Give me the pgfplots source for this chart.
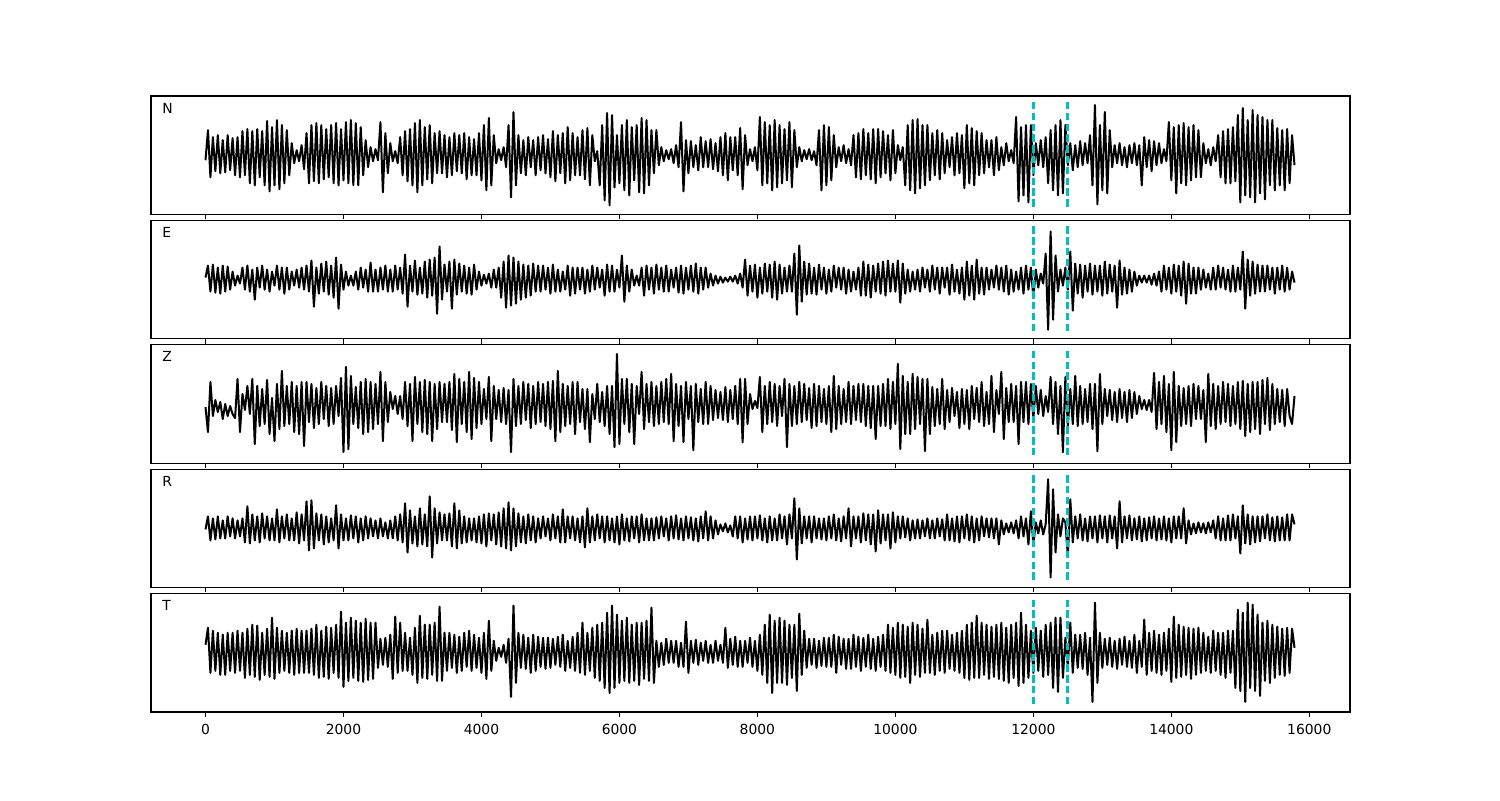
\documentclass[border=0pt]{standalone}
\usepackage{fontspec}
\setmainfont{DejaVu Sans}
\usepackage{pgfplots}
\usepackage{pgfplotstable}
\pgfplotsset{compat=1.18}
\definecolor{mplc}{rgb}{0,0.75,0.75}

\pgfplotstableread[row sep=\\, header=false]{
-5\\ 25\\ -22\\ 18\\ -16\\ 20\\ -18\\ 15\\ -17\\ 20\\ -15\\ 17\\ -20\\ 18\\
-22\\ 24\\ -20\\ 26\\ -28\\ 24\\ -30\\ 26\\ -22\\ 24\\ -30\\ 34\\ -36\\ 28\\
-30\\ 35\\ -34\\ 30\\ -28\\ 25\\ -20\\ 12\\ -8\\ 5\\ -6\\ 10\\ -14\\ 22\\
-28\\ 30\\ -26\\ 32\\ -28\\ 30\\ -24\\ 26\\ -22\\ 30\\ -28\\ 32\\ -30\\ 26\\
-25\\ 33\\ -28\\ 35\\ -30\\ 32\\ -30\\ 28\\ -20\\ 15\\ -12\\ 8\\ -6\\ 6\\
-5\\ 33\\ -37\\ 22\\ -18\\ 12\\ -6\\ 4\\ -8\\ 18\\ -20\\ 24\\ -26\\ 26\\
-30\\ 32\\ -37\\ 35\\ -30\\ 28\\ -24\\ 30\\ -28\\ 22\\ -18\\ 24\\ -18\\ 20\\
-22\\ 18\\ -20\\ 22\\ -16\\ 20\\ -18\\ 22\\ -24\\ 18\\ -20\\ 16\\ -20\\ 22\\
-25\\ 30\\ -35\\ 37\\ -30\\ 20\\ -8\\ 6\\ -5\\ 8\\ -12\\ 30\\ -42\\ 43\\
-30\\ 20\\ -18\\ 15\\ -20\\ 18\\ -12\\ 15\\ -20\\ 18\\ -15\\ 20\\ -18\\ 16\\
-22\\ 24\\ -26\\ 20\\ -18\\ 22\\ -28\\ 28\\ -25\\ 22\\ -20\\ 18\\ -20\\ 25\\
-24\\ 27\\ -30\\ 20\\ -6\\ 4\\ -30\\ 30\\ -45\\ 42\\ -50\\ 40\\ -32\\ 20\\
-28\\ 30\\ -35\\ 35\\ -40\\ 28\\ -25\\ 30\\ -37\\ 37\\ -38\\ 35\\ -30\\ 25\\
-18\\ 25\\ -10\\ 8\\ -6\\ 5\\ -4\\ 6\\ -8\\ 10\\ -12\\ 33\\ -36\\ 15\\
-18\\ 14\\ -12\\ 10\\ -15\\ 18\\ -12\\ 14\\ -12\\ 16\\ -14\\ 12\\ -16\\ 18\\
-20\\ 22\\ -25\\ 18\\ -15\\ 18\\ -20\\ 27\\ -34\\ 20\\ -10\\ 6\\ -6\\ 8\\
-15\\ 38\\ -30\\ 33\\ -28\\ 30\\ -35\\ 35\\ -32\\ 30\\ -28\\ 26\\ -25\\ 33\\
-32\\ 25\\ -12\\ 8\\ -6\\ 5\\ -4\\ 6\\ -5\\ 4\\ -10\\ 25\\ -35\\ 30\\
-30\\ 28\\ -25\\ 20\\ -12\\ 8\\ -6\\ 10\\ -8\\ 6\\ -10\\ 20\\ -22\\ 22\\
-24\\ 26\\ -20\\ 22\\ -24\\ 26\\ -28\\ 26\\ -22\\ 24\\ -18\\ 20\\ -25\\ 25\\
-18\\ 10\\ -5\\ 8\\ -30\\ 30\\ -35\\ 35\\ -38\\ 36\\ -33\\ 30\\ -30\\ 30\\
-25\\ 22\\ -20\\ 25\\ -24\\ 22\\ -18\\ 15\\ -12\\ 18\\ -20\\ 22\\ -18\\ 20\\
-33\\ 30\\ -28\\ 27\\ -30\\ 24\\ -20\\ 22\\ -18\\ 15\\ -12\\ 15\\ -20\\ 18\\
-15\\ 8\\ -10\\ 12\\ -6\\ 5\\ -8\\ 38\\ -46\\ 28\\ -40\\ 30\\ -47\\ 30\\
-20\\ 12\\ -10\\ 15\\ -12\\ 18\\ -28\\ 25\\ -35\\ 30\\ -40\\ 35\\ -38\\ 30\\
-10\\ 12\\ -15\\ 10\\ -12\\ 14\\ -10\\ 12\\ -8\\ 20\\ -30\\ 50\\ -49\\ 30\\
-35\\ 43\\ -38\\ 25\\ -12\\ 10\\ -8\\ 12\\ -10\\ 8\\ -12\\ 10\\ -8\\ 12\\
-10\\ 10\\ -30\\ 18\\ -12\\ 15\\ -16\\ 14\\ -10\\ 12\\ -8\\ 6\\ -6\\ 33\\
-25\\ 28\\ -38\\ 30\\ -28\\ 32\\ -30\\ 28\\ -25\\ 30\\ -22\\ 25\\ -22\\ 12\\
-8\\ 6\\ -10\\ 8\\ -6\\ 20\\ -22\\ 24\\ -28\\ 26\\ -28\\ 28\\ -26\\ 40\\
-47\\ 47\\ -40\\ 35\\ -42\\ 45\\ -47\\ 40\\ -38\\ 38\\ -44\\ 35\\ -30\\ 35\\
-35\\ 27\\ -30\\ 25\\ -35\\ 26\\ -28\\ 20\\ -10\\
}\tN

\pgfplotstableread[row sep=\\, header=false]{
2\\ 14\\ -12\\ 15\\ -13\\ 12\\ -14\\ 14\\ -12\\ 13\\ -10\\ 8\\ -6\\ 4\\
-4\\ 12\\ -10\\ 14\\ -12\\ 10\\ -20\\ 12\\ -8\\ 14\\ -10\\ 10\\ -12\\ 8\\
-6\\ 14\\ -10\\ 12\\ -14\\ 12\\ -10\\ 8\\ -6\\ 10\\ -8\\ 12\\ -10\\ 14\\
-12\\ 19\\ -27\\ 12\\ -14\\ 16\\ -12\\ 18\\ -15\\ 14\\ -18\\ 22\\ -29\\ 15\\
-10\\ 8\\ -6\\ 4\\ -6\\ 8\\ -10\\ 12\\ -8\\ 10\\ -12\\ 17\\ -12\\ 10\\
-12\\ 12\\ -10\\ 14\\ -12\\ 10\\ -12\\ 14\\ -10\\ 12\\ -14\\ 25\\ -27\\ 14\\
-12\\ 19\\ -15\\ 12\\ -14\\ 18\\ -18\\ 20\\ -16\\ 22\\ -34\\ 33\\ -20\\ 15\\
-12\\ 18\\ -29\\ 20\\ -15\\ 16\\ -12\\ 14\\ -14\\ 12\\ -15\\ 15\\ -10\\ 8\\
-6\\ 5\\ -4\\ 6\\ -8\\ 10\\ -8\\ 12\\ -18\\ 18\\ -28\\ 24\\ -26\\ 22\\
-24\\ 18\\ -20\\ 15\\ -18\\ 14\\ -16\\ 16\\ -12\\ 14\\ -12\\ 14\\ -10\\ 12\\
-14\\ 15\\ -12\\ 10\\ -12\\ 8\\ -10\\ 14\\ -16\\ 12\\ -14\\ 12\\ -10\\ 12\\
-14\\ 10\\ -12\\ 14\\ -10\\ 12\\ -8\\ 10\\ -16\\ 15\\ -12\\ 14\\ -12\\ 10\\
-8\\ 24\\ -22\\ 14\\ -12\\ 10\\ -6\\ 4\\ -6\\ 12\\ -16\\ 14\\ -10\\ 12\\
-14\\ 15\\ -10\\ 12\\ -12\\ 14\\ -12\\ 10\\ -8\\ 12\\ -13\\ 14\\ -14\\ 12\\
-10\\ 14\\ -12\\ 16\\ -14\\ 12\\ -10\\ 12\\ -8\\ 6\\ -6\\ 4\\ -4\\ 3\\
-3\\ 2\\ -2\\ 3\\ -2\\ 4\\ -4\\ 6\\ -8\\ 20\\ -16\\ 14\\ -12\\ 15\\
-18\\ 12\\ -14\\ 16\\ -12\\ 15\\ -18\\ 18\\ -20\\ 15\\ -14\\ 12\\ -12\\ 14\\
-12\\ 26\\ -35\\ 34\\ -22\\ 18\\ -15\\ 16\\ -14\\ 12\\ -15\\ 15\\ -10\\ 12\\
-14\\ 10\\ -12\\ 14\\ -8\\ 12\\ -10\\ 12\\ -14\\ 10\\ -12\\ 8\\ -10\\ 12\\
-16\\ 18\\ -16\\ 15\\ -18\\ 14\\ -12\\ 16\\ -14\\ 18\\ -16\\ 19\\ -12\\ 16\\
-12\\ 19\\ -23\\ 16\\ -14\\ 10\\ -12\\ 8\\ -10\\ 10\\ -12\\ 12\\ -8\\ 10\\
-12\\ 14\\ -10\\ 12\\ -14\\ 12\\ -8\\ 12\\ -15\\ 15\\ -12\\ 10\\ -14\\ 12\\
-20\\ 18\\ -16\\ 14\\ -20\\ 20\\ -14\\ 12\\ -15\\ 12\\ -10\\ 10\\ -8\\ 14\\
-10\\ 12\\ -12\\ 14\\ -15\\ 10\\ -12\\ 8\\ -10\\ 12\\ -14\\ 14\\ -10\\ 12\\
-18\\ 10\\ -8\\ 6\\ -4\\ 26\\ -50\\ 48\\ -40\\ 24\\ -12\\ 10\\ -6\\ 12\\
-10\\ 28\\ -31\\ 16\\ -14\\ 15\\ -18\\ 14\\ -12\\ 16\\ -15\\ 14\\ -12\\ 14\\
-16\\ 18\\ -14\\ 15\\ -12\\ 14\\ -28\\ 19\\ -15\\ 12\\ -14\\ 10\\ -12\\ 8\\
-6\\ 4\\ -3\\ 4\\ -3\\ 4\\ -5\\ 6\\ -6\\ 8\\ -12\\ 14\\ -10\\ 12\\
-14\\ 15\\ -12\\ 14\\ -16\\ 18\\ -24\\ 16\\ -14\\ 12\\ -14\\ 12\\ -10\\ 10\\
-8\\ 6\\ -10\\ 12\\ -10\\ 14\\ -8\\ 12\\ -10\\ 10\\ -12\\ 14\\ -12\\ 12\\
-10\\ 28\\ -29\\ 20\\ -16\\ 18\\ -14\\ 15\\ -12\\ 14\\ -12\\ 14\\ -10\\ 12\\
-14\\ 12\\ -10\\ 14\\ -12\\ 12\\ -10\\ 8\\ -3\\
}\tE

\pgfplotstableread[row sep=\\, header=false]{
-3\\ -28\\ 22\\ -12\\ 4\\ -8\\ 2\\ -15\\ 0\\ -12\\ -2\\ -10\\ -14\\ 25\\
-28\\ 10\\ -6\\ 18\\ -10\\ 25\\ -40\\ 18\\ -22\\ 15\\ -20\\ 24\\ -30\\ 6\\
-37\\ 20\\ -25\\ 33\\ -22\\ 18\\ -20\\ 22\\ -28\\ 18\\ -30\\ 22\\ -42\\ 22\\
-18\\ 20\\ -24\\ 16\\ -20\\ 22\\ -15\\ 18\\ -22\\ 16\\ -20\\ 18\\ -12\\ 26\\
-48\\ 37\\ -45\\ 28\\ -20\\ 17\\ -24\\ 22\\ -30\\ 25\\ -28\\ 22\\ -25\\ 20\\
-20\\ 32\\ -37\\ 22\\ -18\\ 12\\ -5\\ 8\\ -10\\ 8\\ -15\\ 22\\ -22\\ 20\\
-37\\ 27\\ -20\\ 22\\ -28\\ 24\\ -30\\ 22\\ -37\\ 20\\ -25\\ 22\\ -18\\ 20\\
-18\\ 22\\ -26\\ 30\\ -38\\ 25\\ -20\\ 22\\ -28\\ 32\\ -35\\ 26\\ -24\\ 22\\
-20\\ 15\\ -15\\ 27\\ -37\\ 18\\ -15\\ 14\\ -18\\ 16\\ -20\\ 14\\ -48\\ 25\\
-22\\ 18\\ -20\\ 22\\ -16\\ 20\\ -24\\ 18\\ -20\\ 22\\ -18\\ 20\\ -22\\ 22\\
-25\\ 23\\ -37\\ 33\\ -28\\ 20\\ -22\\ 18\\ -20\\ 22\\ -30\\ 22\\ -18\\ 15\\
-25\\ 15\\ -38\\ 10\\ -15\\ 20\\ -18\\ 12\\ -22\\ 18\\ -30\\ 18\\ -43\\ 50\\
-40\\ 25\\ -20\\ 25\\ -28\\ 20\\ -40\\ 18\\ -10\\ 32\\ -25\\ 20\\ -18\\ 22\\
-22\\ 18\\ -20\\ 22\\ -18\\ 25\\ -20\\ 30\\ -37\\ 20\\ -22\\ 18\\ -38\\ 22\\
-15\\ 18\\ -46\\ 20\\ -18\\ 15\\ -20\\ 22\\ -20\\ 18\\ -16\\ 14\\ -14\\ 12\\
-16\\ 17\\ -18\\ 14\\ -15\\ 18\\ -20\\ 25\\ -38\\ 25\\ -20\\ 10\\ -5\\ 3\\
-4\\ 27\\ -28\\ 18\\ -20\\ 22\\ -18\\ 20\\ -22\\ 18\\ -12\\ 25\\ -43\\ 20\\
-22\\ 18\\ -20\\ 22\\ -18\\ 20\\ -16\\ 16\\ -24\\ 20\\ -22\\ 18\\ -18\\ 15\\
-20\\ 18\\ -28\\ 28\\ -25\\ 18\\ -20\\ 15\\ -18\\ 22\\ -20\\ 18\\ -16\\ 20\\
-18\\ 20\\ -22\\ 18\\ -24\\ 18\\ -35\\ 18\\ -22\\ 20\\ -22\\ 25\\ -25\\ 22\\
-20\\ 40\\ -45\\ 28\\ -30\\ 22\\ -30\\ 30\\ -25\\ 27\\ -20\\ 25\\ -47\\ 25\\
-30\\ 17\\ -22\\ 15\\ -20\\ 25\\ -25\\ 14\\ -18\\ 16\\ -12\\ 12\\ -24\\ 15\\
-20\\ 14\\ -25\\ 18\\ -15\\ 16\\ -18\\ 22\\ -22\\ 12\\ -20\\ 28\\ -28\\ 14\\
-10\\ 32\\ -35\\ 16\\ -18\\ 20\\ -18\\ 18\\ -40\\ 22\\ -18\\ 22\\ -20\\ 20\\
-15\\ 18\\ -10\\ 14\\ -12\\ 8\\ -8\\ 27\\ -20\\ 22\\ -30\\ 18\\ -48\\ 27\\
-22\\ 15\\ -20\\ 28\\ -22\\ 18\\ -20\\ 15\\ -18\\ 20\\ -25\\ 20\\ -47\\ 30\\
-20\\ 15\\ -12\\ 14\\ -16\\ 12\\ -18\\ 15\\ -14\\ 12\\ -18\\ 14\\ -14\\ 12\\
-10\\ 8\\ -5\\ 4\\ -6\\ 4\\ -8\\ 31\\ -25\\ 22\\ -20\\ 28\\ -28\\ 20\\
-46\\ 32\\ -38\\ 18\\ -22\\ 16\\ -20\\ 18\\ -22\\ 20\\ -15\\ 18\\ -15\\ 14\\
-38\\ 30\\ -22\\ 20\\ -25\\ 18\\ -20\\ 22\\ -18\\ 20\\ -22\\ 18\\ -20\\ 22\\
-25\\ 23\\ -32\\ 20\\ -28\\ 22\\ -25\\ 22\\ -30\\ 24\\ -20\\ 26\\ -26\\ 20\\
-20\\ 15\\ -18\\ 14\\ -22\\ 15\\ -12\\ -20\\ 8\\
}\tZ

\pgfplotstableread[row sep=\\, header=false]{
-1\\ 12\\ -12\\ 10\\ -11\\ 12\\ -10\\ 8\\ -10\\ 12\\ -8\\ 10\\ -10\\ 8\\
-8\\ 10\\ -14\\ 22\\ -15\\ 14\\ -12\\ 12\\ -14\\ 15\\ -10\\ 12\\ -12\\ 10\\
-12\\ 19\\ -14\\ 12\\ -10\\ 14\\ -12\\ 10\\ -12\\ 16\\ -15\\ 14\\ -12\\ 27\\
-22\\ 28\\ -20\\ 15\\ -12\\ 14\\ -16\\ 12\\ -14\\ 10\\ -12\\ 23\\ -20\\ 14\\
-12\\ 10\\ -12\\ 13\\ -10\\ 12\\ -14\\ 10\\ -12\\ 12\\ -10\\ 10\\ -8\\ 8\\
-10\\ 10\\ -8\\ 6\\ -10\\ 8\\ -10\\ 12\\ -12\\ 14\\ -14\\ 25\\ -24\\ 18\\
-15\\ 12\\ -18\\ 20\\ -16\\ 14\\ -18\\ 32\\ -29\\ 20\\ -15\\ 16\\ -12\\ 14\\
-12\\ 15\\ -18\\ 25\\ -20\\ 18\\ -15\\ 12\\ -14\\ 10\\ -12\\ 10\\ -14\\ 12\\
-15\\ 14\\ -18\\ 15\\ -12\\ 14\\ -16\\ 16\\ -18\\ 20\\ -20\\ 26\\ -22\\ 20\\
-18\\ 15\\ -14\\ 12\\ -15\\ 14\\ -12\\ 12\\ -14\\ 10\\ -10\\ 12\\ -8\\ 10\\
-12\\ 14\\ -10\\ 12\\ -14\\ 19\\ -14\\ 12\\ -10\\ 12\\ -12\\ 10\\ -14\\ 12\\
-19\\ 20\\ -14\\ 12\\ -12\\ 14\\ -10\\ 12\\ -14\\ 12\\ -12\\ 10\\ -14\\ 12\\
-16\\ 14\\ -12\\ 10\\ -13\\ 12\\ -10\\ 12\\ -14\\ 14\\ -12\\ 10\\ -12\\ 10\\
-12\\ 11\\ -10\\ 12\\ -8\\ 10\\ -12\\ 12\\ -10\\ 13\\ -11\\ 10\\ -12\\ 12\\
-10\\ 11\\ -12\\ 10\\ -13\\ 12\\ -10\\ 17\\ -12\\ 12\\ -10\\ 8\\ -6\\ 4\\
-3\\ 5\\ -4\\ 3\\ -8\\ 12\\ -10\\ 12\\ -14\\ 10\\ -11\\ 12\\ -12\\ 12\\
-10\\ 13\\ -12\\ 10\\ -14\\ 12\\ -12\\ 10\\ -12\\ 14\\ -10\\ 12\\ -16\\ 14\\
-10\\ 30\\ -31\\ 20\\ -15\\ 12\\ -10\\ 12\\ -14\\ 12\\ -10\\ 10\\ -11\\ 10\\
-12\\ 12\\ -10\\ 14\\ -12\\ 10\\ -13\\ 12\\ -10\\ 20\\ -18\\ 12\\ -10\\ 12\\
-14\\ 15\\ -12\\ 14\\ -16\\ 14\\ -23\\ 18\\ -15\\ 14\\ -12\\ 14\\ -20\\ 16\\
-14\\ 12\\ -10\\ 12\\ -9\\ 10\\ -12\\ 8\\ -10\\ 9\\ -10\\ 8\\ -8\\ 10\\
-10\\ 8\\ -10\\ 10\\ -8\\ 9\\ -12\\ 14\\ -12\\ 10\\ -13\\ 12\\ -14\\ 12\\
-10\\ 14\\ -12\\ 12\\ -14\\ 10\\ -12\\ 12\\ -8\\ 10\\ -9\\ 10\\ -10\\ 10\\
-16\\ 8\\ -6\\ 5\\ -4\\ 6\\ -5\\ 8\\ -10\\ 12\\ -8\\ 10\\ -16\\ 17\\
-16\\ 6\\ -5\\ 8\\ -6\\ 4\\ 49\\ -49\\ 39\\ -24\\ 14\\ -8\\ 10\\ 6\\
-28\\ 29\\ -14\\ 12\\ -10\\ 14\\ -12\\ 10\\ -13\\ 12\\ -10\\ 12\\ -14\\ 13\\
-10\\ 12\\ -14\\ 13\\ -10\\ 12\\ -20\\ 27\\ -14\\ 12\\ -10\\ 13\\ -12\\ 10\\
-11\\ 12\\ -13\\ 10\\ -12\\ 11\\ -10\\ 12\\ -12\\ 10\\ -11\\ 12\\ -12\\ 10\\
-14\\ 12\\ -10\\ 12\\ -10\\ 20\\ -15\\ 8\\ -6\\ 5\\ -5\\ 6\\ -4\\ 5\\
-5\\ 6\\ -4\\ 8\\ -10\\ 12\\ -12\\ 10\\ -12\\ 13\\ -12\\ 14\\ -10\\ 12\\
-25\\ 23\\ -15\\ 14\\ -16\\ 12\\ -14\\ 12\\ -13\\ 12\\ -10\\ 14\\ -12\\ 11\\
-13\\ 12\\ -12\\ 11\\ -12\\ 14\\ -12\\ 14\\ 4\\
}\tR

\pgfplotstableread[row sep=\\, header=false]{
8\\ 25\\ -20\\ 22\\ -18\\ 20\\ -22\\ 18\\ -22\\ 20\\ -18\\ 20\\ -20\\ 22\\
-18\\ 20\\ -25\\ 24\\ -22\\ 28\\ -24\\ 27\\ -27\\ 20\\ -22\\ 24\\ -24\\ 35\\
-26\\ 25\\ -20\\ 22\\ -18\\ 20\\ -20\\ 22\\ -22\\ 24\\ -20\\ 22\\ -20\\ 22\\
-20\\ 24\\ -22\\ 28\\ -25\\ 22\\ -24\\ 26\\ -26\\ 25\\ -20\\ 28\\ -25\\ 41\\
-34\\ 30\\ -28\\ 35\\ -25\\ 32\\ -28\\ 30\\ -29\\ 34\\ -27\\ 30\\ -26\\ 30\\
-15\\ 14\\ -12\\ 15\\ -14\\ 18\\ -26\\ 36\\ -20\\ 30\\ -18\\ 20\\ -18\\ 15\\
-22\\ 25\\ -30\\ 37\\ -25\\ 28\\ -26\\ 28\\ -22\\ 30\\ -28\\ 46\\ -28\\ 20\\
-18\\ 20\\ -15\\ 18\\ -20\\ 16\\ -18\\ 20\\ -14\\ 22\\ -18\\ 18\\ -15\\ 15\\
-20\\ 20\\ -26\\ 32\\ -18\\ 12\\ -8\\ 5\\ -4\\ 8\\ -10\\ 14\\ -44\\ 47\\
-30\\ 20\\ -15\\ 18\\ -16\\ 15\\ -20\\ 18\\ -18\\ 16\\ -14\\ 15\\ -16\\ 15\\
-15\\ 14\\ -12\\ 16\\ -14\\ 18\\ -18\\ 12\\ -15\\ 16\\ -18\\ 20\\ -20\\ 30\\
-22\\ 20\\ -18\\ 25\\ -25\\ 28\\ -28\\ 30\\ -35\\ 40\\ -40\\ 47\\ -35\\ 38\\
-30\\ 32\\ -28\\ 35\\ -30\\ 28\\ -28\\ 30\\ -32\\ 30\\ -26\\ 32\\ -28\\ 45\\
-30\\ 12\\ -14\\ 10\\ -12\\ 14\\ -10\\ 12\\ -10\\ 12\\ -14\\ 10\\ -14\\ 31\\
-20\\ 12\\ -10\\ 13\\ -12\\ 10\\ -8\\ 12\\ -10\\ 8\\ -10\\ 12\\ -8\\ 8\\
-10\\ 25\\ -15\\ 14\\ -12\\ 16\\ -14\\ 12\\ -14\\ 12\\ -10\\ 15\\ -14\\ 12\\
-18\\ 18\\ -22\\ 28\\ -30\\ 38\\ -40\\ 32\\ -30\\ 35\\ -30\\ 32\\ -32\\ 28\\
-25\\ 28\\ -38\\ 39\\ -22\\ 22\\ -15\\ 14\\ -12\\ 14\\ -15\\ 12\\ -13\\ 15\\
-14\\ 15\\ -14\\ 18\\ -20\\ 16\\ -12\\ 14\\ -16\\ 14\\ -16\\ 18\\ -14\\ 16\\
-18\\ 15\\ -14\\ 18\\ -16\\ 14\\ -18\\ 16\\ -14\\ 18\\ -18\\ 28\\ -20\\ 25\\
-22\\ 30\\ -25\\ 28\\ -24\\ 26\\ -30\\ 30\\ -22\\ 28\\ -24\\ 24\\ -20\\ 33\\
-20\\ 18\\ -22\\ 20\\ -18\\ 22\\ -20\\ 22\\ -16\\ 18\\ -18\\ 20\\ -20\\ 22\\
-25\\ 28\\ -27\\ 30\\ -25\\ 37\\ -25\\ 30\\ -22\\ 28\\ -26\\ 26\\ -24\\ 28\\
-26\\ 30\\ -28\\ 25\\ -30\\ 28\\ -25\\ 30\\ -33\\ 40\\ -30\\ 28\\ -25\\ 22\\
-20\\ 25\\ -18\\ 22\\ -24\\ 28\\ -22\\ 30\\ -35\\ 35\\ -39\\ 35\\ -25\\ 15\\
-14\\ 30\\ -20\\ 18\\ -15\\ 18\\ -16\\ 20\\ -22\\ 15\\ -49\\ 50\\ -30\\ 20\\
-15\\ 14\\ -12\\ 15\\ -14\\ 12\\ -16\\ 14\\ -12\\ 16\\ -14\\ 12\\ -15\\ 18\\
-20\\ 12\\ -14\\ 33\\ -22\\ 20\\ -18\\ 22\\ -20\\ 18\\ -22\\ 20\\ -18\\ 24\\
-29\\ 36\\ -25\\ 28\\ -24\\ 26\\ -22\\ 25\\ -26\\ 24\\ -22\\ 25\\ -20\\ 20\\
-18\\ 16\\ -20\\ 22\\ -18\\ 20\\ -22\\ 20\\ -25\\ 22\\ -20\\ 22\\ -35\\ 43\\
-38\\ 40\\ -49\\ 50\\ -35\\ 48\\ -38\\ 38\\ -43\\ 30\\ -28\\ 32\\ -30\\ 28\\
-25\\ 26\\ -22\\ 24\\ -23\\ 25\\ -20\\ 24\\ 5\\
}\tT

\pgfplotsset{
  panel/.style={
    anchor=south west, scale only axis, width=599.5pt, height=59.2pt,
    xmin=-790, xmax=16590, ymin=-59, ymax=59,
    ytick=\empty, xtick={0,2000,4000,6000,8000,10000,12000,14000,16000},
    xtick pos=left, tick align=outside, major tick length=2.43pt,
    axis line style={line width=0.56pt},
    every tick/.style={black, line width=0.56pt},
    scaled x ticks=false,
    xticklabel style={font=\fontsize{6.94}{8}\selectfont},
    /pgf/number format/1000 sep={},
    /pgf/number format/assume math mode=true,
  },
  nolab/.style={xticklabels={}},
}
\tikzset{
  wave/.style={black, line width=1pt, line join=round},
  dashc/.style={mplc, line width=1.5pt, dash pattern=on 3.7pt off 1.7pt},
  plab/.style={anchor=west, inner sep=0pt, font=\fontsize{6.94}{8}\selectfont},
}

\begin{document}
\begin{tikzpicture}
\path[use as bounding box] (0,0) rectangle (750pt,400pt);

\begin{axis}[panel, nolab, at={(75.5pt,292.8pt)}]
\addplot[wave, no markers] table[x expr=\coordindex*35.7143, y index=0] {\tN};
\addplot[dashc, no markers] coordinates {(12000,53) (12000,-53)};
\addplot[dashc, no markers] coordinates {(12500,53) (12500,-53)};
\node[plab] at (rel axis cs:0.0092,0.898) {N};
\end{axis}

\begin{axis}[panel, nolab, at={(75.5pt,230.6pt)}]
\addplot[wave, no markers] table[x expr=\coordindex*35.7143, y index=0] {\tE};
\addplot[dashc, no markers] coordinates {(12000,53) (12000,-53)};
\addplot[dashc, no markers] coordinates {(12500,53) (12500,-53)};
\node[plab] at (rel axis cs:0.0092,0.898) {E};
\end{axis}

\begin{axis}[panel, nolab, at={(75.5pt,168.4pt)}]
\addplot[wave, no markers] table[x expr=\coordindex*35.7143, y index=0] {\tZ};
\addplot[dashc, no markers] coordinates {(12000,53) (12000,-53)};
\addplot[dashc, no markers] coordinates {(12500,53) (12500,-53)};
\node[plab] at (rel axis cs:0.0092,0.898) {Z};
\end{axis}

\begin{axis}[panel, nolab, at={(75.5pt,106.2pt)}]
\addplot[wave, no markers] table[x expr=\coordindex*35.7143, y index=0] {\tR};
\addplot[dashc, no markers] coordinates {(12000,53) (12000,-53)};
\addplot[dashc, no markers] coordinates {(12500,53) (12500,-53)};
\node[plab] at (rel axis cs:0.0092,0.898) {R};
\end{axis}

\begin{axis}[panel, at={(75.5pt,44pt)}]
\addplot[wave, no markers] table[x expr=\coordindex*35.7143, y index=0] {\tT};
\addplot[dashc, no markers] coordinates {(12000,53) (12000,-53)};
\addplot[dashc, no markers] coordinates {(12500,53) (12500,-53)};
\node[plab] at (rel axis cs:0.0092,0.898) {T};
\end{axis}
\end{tikzpicture}
\end{document}
